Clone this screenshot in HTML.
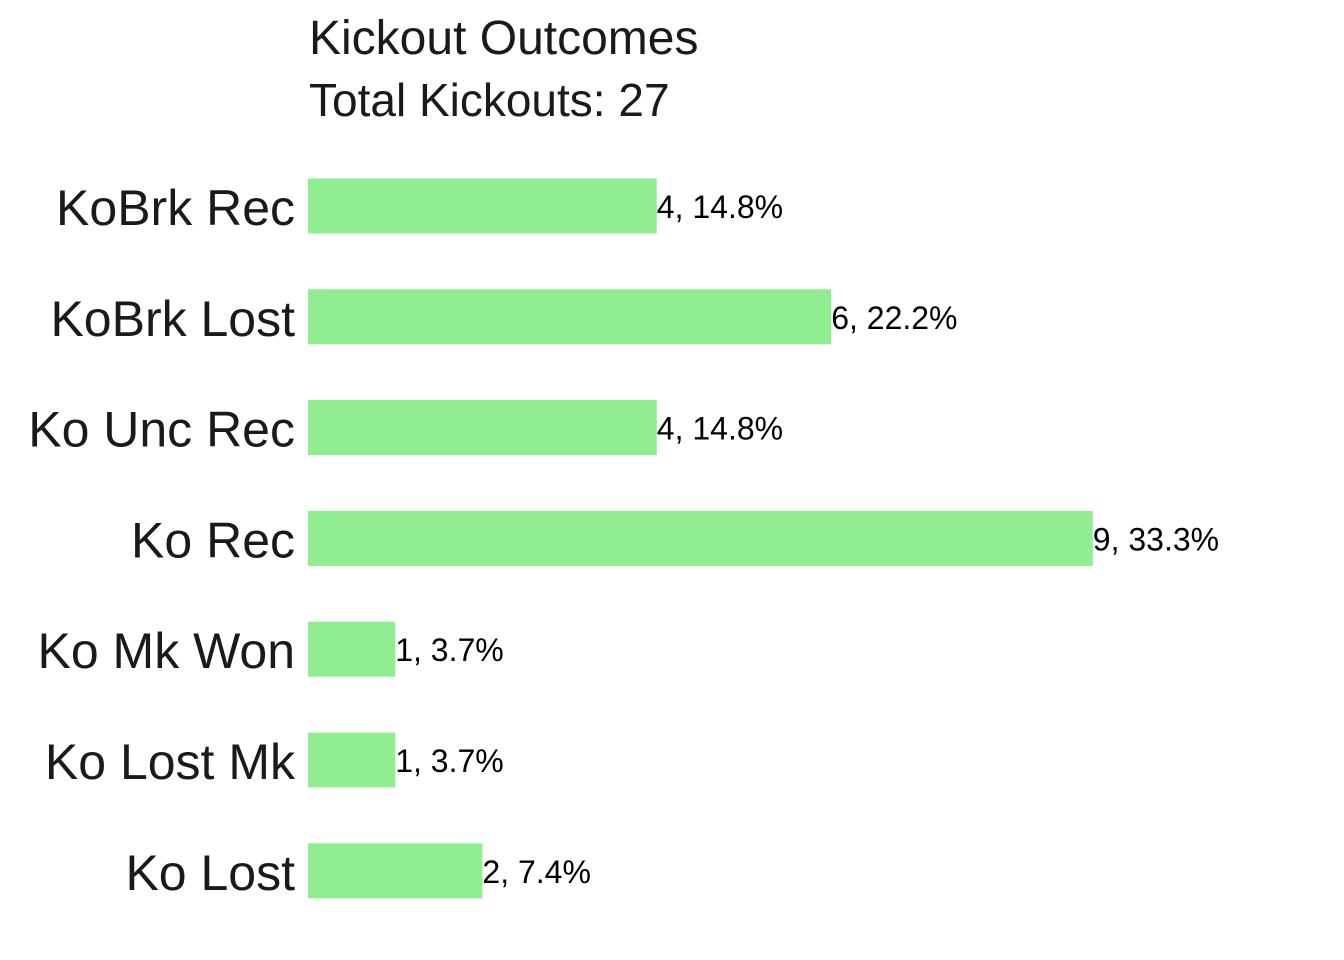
<!DOCTYPE html>
<html><head><meta charset="utf-8"><style>
body{margin:0;background:#fff;}
svg{display:block;font-family:"Liberation Sans",Arial,sans-serif;}
</style></head><body>
<svg id="chart" width="1344" height="960">
<text x="309" y="54" font-size="48" fill="#1a1a1a">Kickout Outcomes</text>
<text x="309" y="116" font-size="46" fill="#1a1a1a">Total Kickouts: 27</text>
<g id="bars"></g>
</svg>
<script>
const categories = ["KoBrk Rec","KoBrk Lost","Ko Unc Rec","Ko Rec","Ko Mk Won","Ko Lost Mk","Ko Lost"];
const counts = [4,6,4,9,1,1,2];
const percents = ["14.8%","22.2%","14.8%","33.3%","3.7%","3.7%","7.4%"];
const x0 = 308, unit = 87.2;
const xScale = v => x0 + v * unit;
const yCenter = i => 206 + i * 110.8;
const barH = 55;
const ns = "http://www.w3.org/2000/svg";
const g = document.getElementById("bars");
categories.forEach((c, i) => {
  const yc = yCenter(i);
  const r = document.createElementNS(ns, "rect");
  r.setAttribute("x", x0);
  r.setAttribute("y", yc - barH / 2);
  r.setAttribute("width", xScale(counts[i]) - x0);
  r.setAttribute("height", barH);
  r.setAttribute("fill", "#90ee90");
  
  
  g.appendChild(r);
  const t = document.createElementNS(ns, "text");
  t.setAttribute("x", 295);
  t.setAttribute("y", yc + 19);
  t.setAttribute("font-size", "50");
  t.setAttribute("fill", "#1a1a1a");
  t.setAttribute("text-anchor", "end");
  t.textContent = c;
  
  
  g.appendChild(t);
  const v = document.createElementNS(ns, "text");
  v.setAttribute("x", xScale(counts[i]));
  v.setAttribute("y", yc + 12);
  v.setAttribute("font-size", "32");
  v.setAttribute("fill", "#000");
  v.textContent = counts[i] + ", " + percents[i];
  
  
  g.appendChild(v);
});
</script>
</body></html>
